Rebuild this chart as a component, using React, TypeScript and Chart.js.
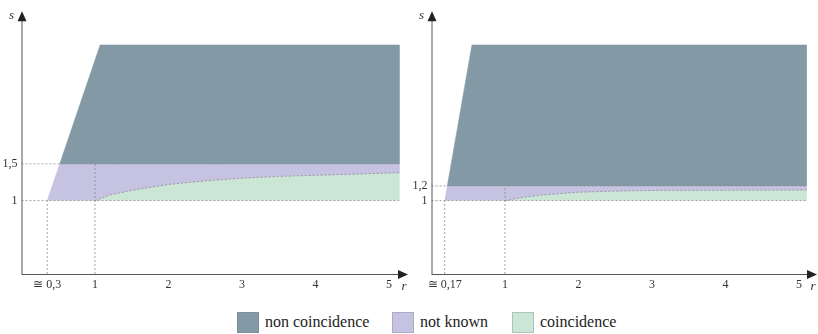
import React, { useEffect, useRef } from "react";
import { Chart, registerables } from "chart.js";

Chart.register(...registerables);

// ---------- data ----------
// Left panel
const leftXTicks = [0.35, 1, 2, 3, 4, 5];
const leftXTickLabels = ["≅ 0,3", "1", "2", "3", "4", "5"];
const leftYTicks = [1, 1.5];
const leftYTickLabels = ["1", "1,5"];
const leftNonCoinR = [0.52, 1.07, 5.14, 5.14];
const leftNonCoinS = [1.5, 3.12, 3.12, 1.5];
const leftCurveR = [1, 1.2, 1.5, 2, 2.5, 3, 3.5, 4, 4.5, 5.14];
const leftCurveS = [1, 1.075, 1.14, 1.22, 1.27, 1.305, 1.33, 1.345, 1.36, 1.38];
const leftLowerR = 0.35; // s = 1 corner
const leftUpperS = 1.5;
const leftEndR = 5.14;

// Right panel
const rightXTicks = [0.18, 1, 2, 3, 4, 5];
const rightXTickLabels = ["≅ 0,17", "1", "2", "3", "4", "5"];
const rightYTicks = [1, 1.2];
const rightYTickLabels = ["1", "1,2"];
const rightNonCoinR = [0.215, 0.55, 5.1, 5.1];
const rightNonCoinS = [1.2, 3.12, 3.12, 1.2];
const rightCurveR = [1, 1.25, 1.5, 2, 2.5, 3, 4, 5.1];
const rightCurveS = [1, 1.045, 1.075, 1.115, 1.13, 1.138, 1.142, 1.145];
const rightLowerR = 0.18;
const rightUpperS = 1.2;
const rightEndR = 5.1;

const legendLabels = ["non coincidence", "not known", "coincidence"];

const COL_DARK = "#8399a5";
const COL_PURPLE = "#c6c3e2";
const COL_GREEN = "#cce6d6";
const COL_DASH = "#8a8a8a";
const SERIF = "'Liberation Serif', 'Times New Roman', 'DejaVu Serif', serif";

type PanelProps = {
  xTicks: number[];
  xTickLabels: string[];
  yTicks: number[];
  yTickLabels: string[];
  nonR: number[];
  nonS: number[];
  curveR: number[];
  curveS: number[];
  lowerR: number;
  upperS: number;
  endR: number;
  xMax: number;
  yMax: number;
  padRight: number;
};

const pts = (rs: number[], ss: number[]) => rs.map((r, i) => ({ x: r, y: ss[i] }));

const arrowPlugin = {
  id: "arrows",
  afterDraw(chart: any) {
    const { ctx, chartArea } = chart;
    const { left, right, top, bottom } = chartArea;
    ctx.save();
    ctx.strokeStyle = "#555";
    ctx.fillStyle = "#222";
    ctx.lineWidth = 1;
    ctx.beginPath();
    ctx.moveTo(left, bottom + 0.5);
    ctx.lineTo(right - 8, bottom + 0.5);
    ctx.moveTo(left + 0.5, bottom);
    ctx.lineTo(left + 0.5, top + 8);
    ctx.stroke();
    ctx.beginPath();
    ctx.moveTo(right, bottom + 0.5);
    ctx.lineTo(right - 10, bottom - 4);
    ctx.lineTo(right - 10, bottom + 5);
    ctx.closePath();
    ctx.fill();
    ctx.beginPath();
    ctx.moveTo(left + 0.5, top);
    ctx.lineTo(left - 4, top + 10);
    ctx.lineTo(left + 5, top + 10);
    ctx.closePath();
    ctx.fill();
    ctx.font = "italic 13px " + SERIF;
    ctx.fillStyle = "#333";
    ctx.textAlign = "center";
    ctx.textBaseline = "middle";
    ctx.fillText("s", left - 10, top + 4);
    ctx.fillText("r", right - 4, bottom + 13);
    ctx.restore();
  },
};

function Panel(p: PanelProps) {
  const ref = useRef<HTMLCanvasElement | null>(null);
  useEffect(() => {
    if (!ref.current) return;
    const nonPoly = pts(p.nonR, p.nonS);
    const curve = pts(p.curveR, p.curveS);
    const last = curve[curve.length - 1];
    const purplePoly = [
      { x: p.lowerR, y: 1 },
      { x: p.nonR[0], y: p.upperS },
      { x: p.endR, y: p.upperS },
      { x: p.endR, y: last.y },
      ...curve.slice().reverse(),
    ];
    const greenPoly = [...curve, { x: p.endR, y: 1 }];
    const dashed = (data: any[]) => ({
      data,
      showLine: true,
      fill: false,
      borderColor: COL_DASH,
      borderWidth: 0.8,
      borderDash: [2, 2],
      pointRadius: 0,
      order: 0,
    });
    const poly = (data: any[], color: string) => ({
      data,
      showLine: true,
      fill: "shape",
      backgroundColor: color,
      borderColor: color,
      borderWidth: 0.5,
      pointRadius: 0,
      tension: 0,
      order: 2,
    });
    const chart = new Chart(ref.current, {
      type: "scatter",
      data: {
        datasets: [
          dashed([{ x: 0, y: p.upperS }, { x: p.endR, y: p.upperS }]),
          dashed([{ x: 0, y: 1 }, { x: p.endR, y: 1 }]),
          dashed([{ x: p.lowerR, y: 0 }, { x: p.lowerR, y: 1 }]),
          dashed([{ x: 1, y: 0 }, { x: 1, y: p.upperS }]),
          dashed(curve),
          poly(nonPoly, COL_DARK),
          poly(purplePoly, COL_PURPLE),
          poly(greenPoly, COL_GREEN),
        ] as any,
      },
      options: {
        animation: false,
        responsive: false,
        maintainAspectRatio: false,
        layout: { padding: { top: 9, right: p.padRight, left: 0, bottom: 0 } },
        plugins: { legend: { display: false }, tooltip: { enabled: false } },
        scales: {
          x: {
            type: "linear",
            min: 0,
            max: p.xMax,
            grid: { display: false, drawTicks: false },
            border: { display: false },
            afterBuildTicks: (s: any) => {
              s.ticks = p.xTicks.map((v) => ({ value: v }));
            },
            afterFit: (s: any) => {
              s.height = 26;
            },
            ticks: {
              autoSkip: false,
              maxRotation: 0,
              padding: 4,
              color: "#333",
              font: { family: SERIF, size: 12 },
              callback: (_v: any, i: number) => p.xTickLabels[i],
            },
          },
          y: {
            type: "linear",
            min: 0,
            max: p.yMax,
            grid: { display: false, drawTicks: false },
            border: { display: false },
            afterBuildTicks: (s: any) => {
              s.ticks = p.yTicks.map((v) => ({ value: v }));
            },
            afterFit: (s: any) => {
              s.width = 21.5;
            },
            ticks: {
              autoSkip: false,
              padding: 4,
              color: "#333",
              font: { family: SERIF, size: 12 },
              callback: (_v: any, i: number) => p.yTickLabels[i],
            },
          },
        },
      } as any,
      plugins: [arrowPlugin],
    });
    return () => chart.destroy();
  }, []);
  return <canvas ref={ref} width={408} height={300} style={{ display: "block", width: 408, height: 300 }} />;
}

export default function App() {
  const legendColors = [COL_DARK, COL_PURPLE, COL_GREEN];
  const boxX = [237, 392, 512];
  const textX = [265, 420, 540];
  return (
    <div style={{ position: "fixed", left: 0, top: 0, width: 818, height: 334, background: "#fff", overflow: "hidden" }}>
      <div style={{ position: "absolute", left: 0, top: 0 }}>
        <Panel
          xTicks={leftXTicks}
          xTickLabels={leftXTickLabels}
          yTicks={leftYTicks}
          yTickLabels={leftYTickLabels}
          nonR={leftNonCoinR}
          nonS={leftNonCoinS}
          curveR={leftCurveR}
          curveS={leftCurveS}
          lowerR={leftLowerR}
          upperS={leftUpperS}
          endR={leftEndR}
          xMax={5.26}
          yMax={3.58}
          padRight={0}
        />
      </div>
      <div style={{ position: "absolute", left: 410, top: 0 }}>
        <Panel
          xTicks={rightXTicks}
          xTickLabels={rightXTickLabels}
          yTicks={rightYTicks}
          yTickLabels={rightYTickLabels}
          nonR={rightNonCoinR}
          nonS={rightNonCoinS}
          curveR={rightCurveR}
          curveS={rightCurveS}
          lowerR={rightLowerR}
          upperS={rightUpperS}
          endR={rightEndR}
          xMax={5.245}
          yMax={3.58}
          padRight={1}
        />
      </div>
      {legendLabels.map((l, i) => (
        <React.Fragment key={l}>
          <div
            style={{
              position: "absolute",
              left: boxX[i],
              top: 312,
              width: 22,
              height: 21,
              background: legendColors[i],
              border: "1px solid rgba(120,130,140,0.35)",
              boxSizing: "border-box",
            }}
          />
          <div
            style={{
              position: "absolute",
              left: textX[i],
              top: 312,
              fontFamily: SERIF,
              fontSize: 16,
              lineHeight: "20px",
              color: "#222",
              whiteSpace: "nowrap",
            }}
          >
            {l}
          </div>
        </React.Fragment>
      ))}
    </div>
  );
}
